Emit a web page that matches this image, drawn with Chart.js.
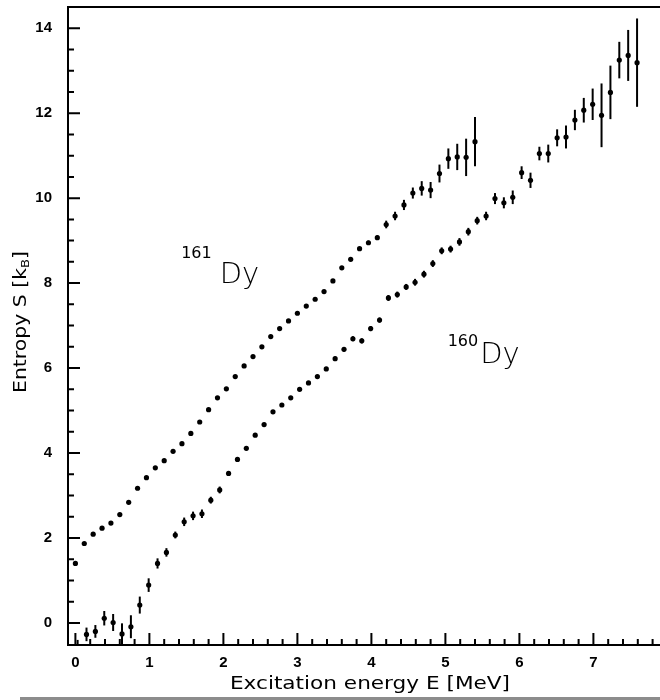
<!DOCTYPE html>
<html>
<head>
<meta charset="utf-8">
<title>Entropy of 160Dy and 161Dy</title>
<script src="https://cdn.jsdelivr.net/npm/chart.js@4.4.1/dist/chart.umd.min.js"></script>
<style>
  html, body { margin: 0; padding: 0; background: #fff; }
  canvas { display: block; }
</style>
</head>
<body>
<canvas id="entropy" width="660" height="700"></canvas>
<script>
/* globals Chart:false */

// 161Dy: excitation energy (MeV), entropy (k_B), error
const E161 = [0.00, 0.12, 0.24, 0.36, 0.48, 0.60, 0.72, 0.84, 0.96, 1.08,
  1.20, 1.32, 1.44, 1.56, 1.68, 1.80, 1.92, 2.04, 2.16, 2.28,
  2.40, 2.52, 2.64, 2.76, 2.88, 3.00, 3.12, 3.24, 3.36, 3.48,
  3.60, 3.72, 3.84, 3.96, 4.08, 4.20, 4.32, 4.44, 4.56, 4.68,
  4.80, 4.92, 5.04, 5.16, 5.28, 5.40]
const S161 = [1.40, 1.87, 2.09, 2.23, 2.35, 2.55, 2.84, 3.17, 3.42, 3.65,
  3.82, 4.04, 4.22, 4.46, 4.73, 5.02, 5.30, 5.51, 5.80, 6.05,
  6.27, 6.50, 6.74, 6.93, 7.11, 7.29, 7.46, 7.62, 7.80, 8.05,
  8.36, 8.56, 8.81, 8.95, 9.07, 9.38, 9.58, 9.84, 10.12, 10.23,
  10.19, 10.58, 10.93, 10.97, 10.96, 11.33]
const dS161 = [0.02, 0.02, 0.02, 0.02, 0.02, 0.02, 0.02, 0.02, 0.02, 0.02,
  0.02, 0.02, 0.02, 0.02, 0.02, 0.02, 0.02, 0.02, 0.02, 0.02,
  0.02, 0.02, 0.02, 0.02, 0.02, 0.02, 0.02, 0.03, 0.03, 0.03,
  0.03, 0.04, 0.04, 0.05, 0.05, 0.09, 0.10, 0.12, 0.13, 0.17,
  0.19, 0.21, 0.24, 0.31, 0.44, 0.58]

// 160Dy
const E160 = [0.03, 0.15, 0.27, 0.39, 0.51, 0.63, 0.75, 0.87, 0.99, 1.11,
  1.23, 1.35, 1.47, 1.59, 1.71, 1.83, 1.95, 2.07, 2.19, 2.31,
  2.43, 2.55, 2.67, 2.79, 2.91, 3.03, 3.15, 3.27, 3.39, 3.51,
  3.63, 3.75, 3.87, 3.99, 4.11, 4.23, 4.35, 4.47, 4.59, 4.71,
  4.83, 4.95, 5.07, 5.19, 5.31, 5.43, 5.55, 5.67, 5.79, 5.91,
  6.03, 6.15, 6.27, 6.39, 6.51, 6.63, 6.75, 6.87, 6.99, 7.11,
  7.23, 7.35, 7.47, 7.59]
const S160 = [-0.95, -0.27, -0.20, 0.11, 0.01, -0.26, -0.09, 0.42, 0.89, 1.40,
  1.66, 2.07, 2.38, 2.52, 2.57, 2.89, 3.13, 3.52, 3.85, 4.11,
  4.42, 4.67, 4.97, 5.13, 5.30, 5.50, 5.65, 5.80, 5.98, 6.22,
  6.44, 6.69, 6.64, 6.93, 7.13, 7.65, 7.73, 7.91, 8.02, 8.21,
  8.46, 8.76, 8.80, 8.97, 9.21, 9.47, 9.58, 9.99, 9.89, 10.02,
  10.60, 10.42, 11.05, 11.05, 11.42, 11.44, 11.84, 12.07, 12.21, 11.95,
  12.49, 13.25, 13.36, 13.19]
const dS160 = [0.55, 0.16, 0.15, 0.17, 0.20, 0.25, 0.27, 0.20, 0.16, 0.12,
  0.10, 0.08, 0.10, 0.10, 0.10, 0.08, 0.08, 0.05, 0.04, 0.04,
  0.04, 0.04, 0.04, 0.04, 0.04, 0.04, 0.04, 0.04, 0.04, 0.05,
  0.05, 0.06, 0.06, 0.06, 0.06, 0.07, 0.07, 0.07, 0.08, 0.08,
  0.08, 0.08, 0.08, 0.09, 0.09, 0.09, 0.10, 0.13, 0.13, 0.16,
  0.15, 0.18, 0.16, 0.21, 0.20, 0.27, 0.24, 0.29, 0.37, 0.75,
  0.63, 0.43, 0.60, 1.04]

const X_TICKS = [0, 1, 2, 3, 4, 5, 6, 7]
const Y_TICKS = [0, 2, 4, 6, 8, 10, 12, 14]

const toPoints = (xs, ys, errs) => xs.map((x, i) => ({ x, y: ys[i], err: errs[i] }))

// vertical error bars, clipped to the plot frame
const errorBars = {
  id: 'errorBars',
  afterDatasetsDraw (chart) {
    const { ctx, chartArea: a, scales: { y } } = chart
    ctx.save()
    ctx.beginPath()
    ctx.rect(a.left, a.top, a.right - a.left, a.bottom - a.top)
    ctx.clip()
    ctx.strokeStyle = '#000'
    ctx.lineWidth = 2
    chart.data.datasets.forEach((ds, di) => {
      const meta = chart.getDatasetMeta(di)
      ds.data.forEach((p, i) => {
        const px = meta.data[i].x
        ctx.beginPath()
        ctx.moveTo(px, y.getPixelForValue(p.y + p.err))
        ctx.lineTo(px, y.getPixelForValue(p.y - p.err))
        ctx.stroke()
      })
    })
    ctx.restore()
  }
}

// text drawn a little wider than the font's own width
const wideText = (ctx, text, x, y, stretch) => {
  ctx.save()
  ctx.translate(x, y)
  ctx.scale(stretch, 1)
  ctx.fillText(text, 0, 0)
  ctx.restore()
}

// frame, inward ticks, axis titles and isotope labels
const frame = {
  id: 'frame',
  afterDraw (chart) {
    const { ctx, chartArea: a, scales: { x, y } } = chart
    ctx.save()
    ctx.strokeStyle = '#000'
    ctx.lineWidth = 2
    ctx.beginPath()
    ctx.moveTo(a.right, a.top)
    ctx.lineTo(a.left, a.top)
    ctx.lineTo(a.left, a.bottom)
    ctx.lineTo(a.right, a.bottom)
    ctx.stroke()

    ctx.beginPath()
    for (let k = 0; k <= 39; k++) {
      const px = x.getPixelForValue(k * 0.2)
      const len = k % 5 === 0 ? 12 : 6
      ctx.moveTo(px, a.bottom)
      ctx.lineTo(px, a.bottom - len)
    }
    for (let k = 0; k <= 28; k++) {
      const py = y.getPixelForValue(k * 0.5)
      const len = k % 4 === 0 ? 12 : 6
      ctx.moveTo(a.left, py)
      ctx.lineTo(a.left + len, py)
    }
    ctx.stroke()

    ctx.fillStyle = '#000'
    ctx.textAlign = 'center'
    ctx.textBaseline = 'alphabetic'
    ctx.font = '18px "DejaVu Sans", sans-serif'
    wideText(ctx, 'Excitation energy E [MeV]', 370, 689, 1.2)

    // y title with subscript B
    ctx.save()
    ctx.translate(26, 322)
    ctx.rotate(-Math.PI / 2)
    ctx.scale(1.2, 1)
    const main = 'Entropy S [k'
    ctx.font = '11px "DejaVu Sans", sans-serif'
    const wSub = ctx.measureText('B').width
    ctx.font = '17px "DejaVu Sans", sans-serif'
    const wMain = ctx.measureText(main).width
    const wEnd = ctx.measureText(']').width
    let cx = -(wMain + wSub + wEnd) / 2
    ctx.textAlign = 'left'
    ctx.fillText(main, cx, 0)
    cx += wMain
    ctx.font = '11px "DejaVu Sans", sans-serif'
    ctx.fillText('B', cx, 3)
    cx += wSub
    ctx.font = '17px "DejaVu Sans", sans-serif'
    ctx.fillText(']', cx, 0)
    ctx.restore()

    const isotope = (mass, e, s, rise, gap) => {
      const px = x.getPixelForValue(e)
      const py = y.getPixelForValue(s)
      ctx.textAlign = 'right'
      ctx.font = '16px "DejaVu Sans", sans-serif'
      ctx.fillText(mass, px - gap, py - rise)
      ctx.textAlign = 'left'
      ctx.font = '200 29px "DejaVu Sans", sans-serif'
      ctx.fillText('Dy', px, py)
    }
    isotope('161', 1.95, 8.0, 25, 8)
    isotope('160', 5.47, 6.12, 17, 2)

    ctx.fillStyle = '#8c8c8c'
    ctx.fillRect(20, 697, 640, 3)
    ctx.restore()
  }
}

const tickFont = { family: '"Liberation Sans", Arial, sans-serif', size: 15, weight: 'bold' }

// eslint-disable-next-line no-unused-vars
const entropyChart = new Chart(document.getElementById('entropy'), {
  type: 'scatter',
  data: {
    datasets: [{
      label: '161Dy',
      data: toPoints(E161, S161, dS161),
      pointRadius: 2.6,
      pointBackgroundColor: '#000',
      pointBorderWidth: 0
    }, {
      label: '160Dy',
      data: toPoints(E160, S160, dS160),
      pointRadius: 2.6,
      pointBackgroundColor: '#000',
      pointBorderWidth: 0
    }]
  },
  options: {
    responsive: false,
    animation: false,
    layout: { autoPadding: false, padding: { top: 7, right: 0, left: 0, bottom: 0 } },
    plugins: {
      legend: { display: false },
      tooltip: { enabled: false }
    },
    scales: {
      x: {
        type: 'linear',
        min: -0.1,
        max: 7.9,
        grid: { display: false, drawTicks: false },
        border: { display: false },
        ticks: { color: '#000', font: tickFont, padding: 9, maxRotation: 0 },
        afterBuildTicks: s => { s.ticks = X_TICKS.map(v => ({ value: v })) },
        afterFit: s => {
          s.height = 55
          s.paddingLeft = 0
          s.paddingRight = 0
        }
      },
      y: {
        type: 'linear',
        min: -0.52,
        max: 14.5,
        grid: { display: false, drawTicks: false },
        border: { display: false },
        ticks: { color: '#000', font: tickFont, padding: 16 },
        afterBuildTicks: s => { s.ticks = Y_TICKS.map(v => ({ value: v })) },
        afterFit: s => {
          s.width = 68
          s.paddingTop = 0
          s.paddingBottom = 0
        }
      }
    }
  },
  plugins: [errorBars, frame]
})
</script>
</body>
</html>
